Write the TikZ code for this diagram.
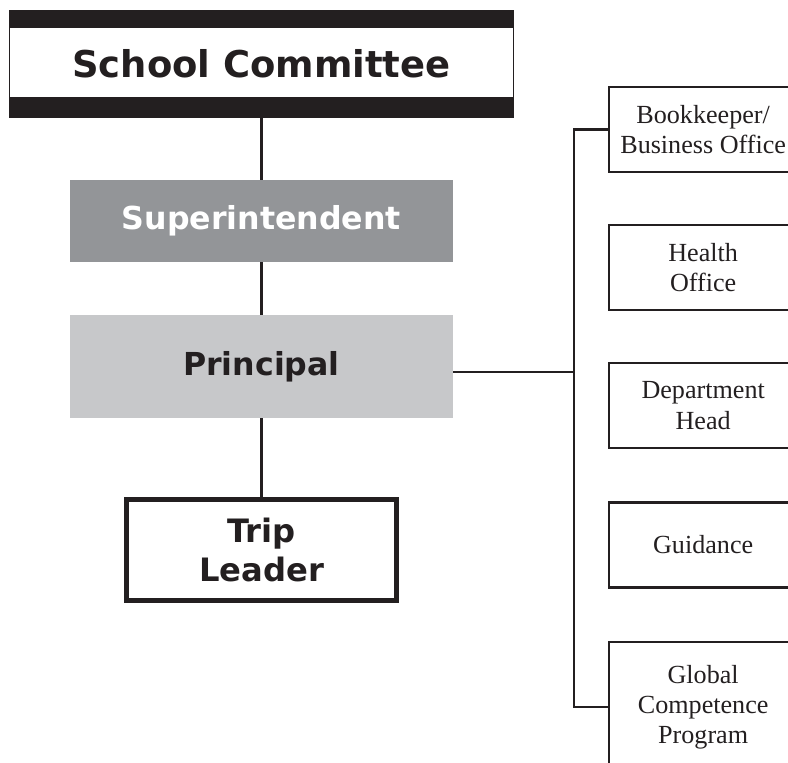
\documentclass[tikz,border=0pt]{standalone}
\usepackage{fontspec}
\setmainfont{Liberation Serif}
\setsansfont{DejaVu Sans}
\usetikzlibrary{calc}

\definecolor{supgray}{HTML}{939598}
\definecolor{prigray}{HTML}{C7C8CA}
\definecolor{ink}{HTML}{231F20}

\begin{document}
\begin{tikzpicture}[x=0.3mm,y=-0.3mm,
    every node/.style={align=center,inner sep=0pt,text=ink},
    topbox/.style={draw=ink,line width=0.3mm,minimum width=150.9mm,minimum height=32.1mm,
        font=\sffamily\bfseries\fontsize{31.5}{36}\selectfont,
        path picture={
            \fill[ink] (path picture bounding box.north west) rectangle ([yshift=-5.4mm]path picture bounding box.north east);
            \fill[ink] ([yshift=6mm]path picture bounding box.south west) rectangle (path picture bounding box.south east);
        }},
    graybox/.style={minimum width=114.9mm,font=\sffamily\bfseries\fontsize{27}{32}\selectfont},
    leadbox/.style={draw=ink,line width=1.5mm,minimum width=81mm,minimum height=30.3mm,
        font=\sffamily\bfseries\fontsize{27.5}{33.5}\selectfont},
    staffbox/.style={draw=ink,line width=0.7mm,anchor=west,minimum width=56.4mm,minimum height=25.5mm,
        font=\rmfamily\fontsize{22.3}{25.8}\selectfont},
    link/.style={draw=ink,line width=0.8mm}]
    \useasboundingbox (0,0) rectangle (788,763);
    \clip (0,0) rectangle (788,763);

    \node[topbox] (sc) at (261.5,63.5) {School Committee};
    \node[graybox,fill=supgray,text=white,minimum height=24.6mm] (sup) at (261.5,221) {Superintendent};
    \node[graybox,fill=prigray,minimum height=30.9mm] (pri) at (261.5,366.5) {Principal};
    \node[leadbox] (trip) at (261.5,550) {Trip\\Leader};

    \node[staffbox] (bk)  at (608,129.5) {Bookkeeper/\\Business Office};
    \node[staffbox] (ho)  at (608,267.5) {Health\\Office};
    \node[staffbox] (dh)  at (608,405.5) {Department\\Head};
    \node[staffbox] (gd)  at (608,545)   {Guidance};
    \node[staffbox,minimum height=39mm] (gcp) at (608,707) {Global\\Competence\\Program};

    \coordinate (bus) at (574,0);

    \draw[link] (sc) -- (sup);
    \draw[link] (sup) -- (pri);
    \draw[link] (pri) -- (trip);
    \draw[link] ([yshift=-1.6mm]pri.east) -- ([yshift=-1.6mm]pri.east -| bus);
    \draw[link] (bk.west) -- (bk.west -| bus) -- (gcp.west -| bus) -- (gcp.west);
\end{tikzpicture}
\end{document}
